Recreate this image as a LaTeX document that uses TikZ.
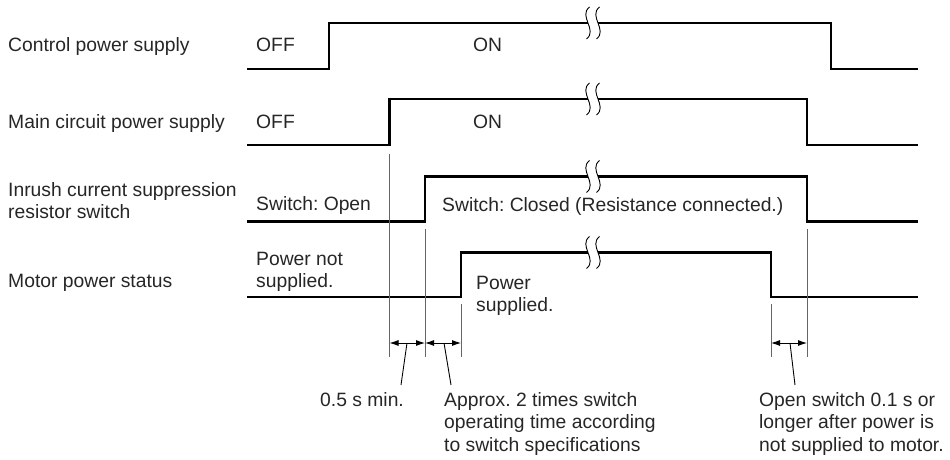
\documentclass[tikz,border=0pt]{standalone}
\usepackage{fontspec}
\setmainfont{Liberation Sans}
\usetikzlibrary{arrows.meta}
\begin{document}
\frenchspacing
\begin{tikzpicture}[x=1pt,y=-1pt,
  wave/.style={line width=2.6pt,black,line join=miter},
  guide/.style={line width=0.9pt,black!60},
  dimarrow/.style={line width=0.9pt,black,{Latex[length=9pt,width=6pt]}-{Latex[length=9pt,width=6pt]}},
  leader/.style={line width=0.9pt,black},
  lbl/.style={anchor=base west,inner sep=0pt,font=\fontsize{19.3}{22.5}\selectfont\frenchspacing,text=black!85},
  brkline/.style={line width=0.9pt,black},
  brkpair/.pic={
    \fill[white] (0,-2.2) rectangle (10,2.2);
    \draw[brkline] (1.5,-16) .. controls (-10,-7) and (10,7) .. (-1.5,16);
    \draw[brkline] (11.5,-16) .. controls (0,-7) and (20,7) .. (8.5,16);
  }]
\useasboundingbox (0,0) rectangle (950,460);

% waveforms
\draw[wave] (247,69) -- (329,69) -- (329,23) -- (831,23) -- (831,69) -- (918,69);
\draw[wave] (247,145) -- (389.5,145) -- (389.5,99) -- (807,99) -- (807,145) -- (918,145);
\draw[wave] (247,221.5) -- (425,221.5) -- (425,176.5) -- (807,176.5) -- (807,221.5) -- (918,221.5);
\draw[wave] (247,297) -- (461,297) -- (461,252.5) -- (771,252.5) -- (771,297) -- (918,297);

% break marks
\pic at (588,23) {brkpair};
\pic at (588,99) {brkpair};
\pic at (588,176.5) {brkpair};
\pic at (588,252.5) {brkpair};

% guide lines
\coordinate (g1t) at (389.5,154); \coordinate (g1b) at (389.5,357);
\coordinate (g2t) at (425,229);   \coordinate (g2b) at (425,357);
\coordinate (g3t) at (461,304);   \coordinate (g3b) at (461,357);
\coordinate (g4t) at (771,304);   \coordinate (g4b) at (771,357);
\coordinate (g5t) at (807,229);   \coordinate (g5b) at (807,357);
\foreach \g in {g1,g2,g3,g4,g5} \draw[guide] (\g t) -- (\g b);

% dimension arrows
\coordinate (d1) at (389.5,343); \coordinate (d2) at (425,343); \coordinate (d3) at (461,343);
\coordinate (d4) at (771,343);   \coordinate (d5) at (807,343);
\draw[dimarrow] (d1) -- (d2);
\draw[dimarrow] (d2) -- (d3);
\draw[dimarrow] (d4) -- (d5);

% leaders
\coordinate (l1a) at (407,343); \coordinate (l1b) at (401,385);
\coordinate (l2a) at (444,343); \coordinate (l2b) at (451,385);
\coordinate (l3a) at (790,343); \coordinate (l3b) at (795,385);
\draw[leader] (l1a) -- (l1b);
\draw[leader] (l2a) -- (l2b);
\draw[leader] (l3a) -- (l3b);

% row labels
\node[lbl] (cps) at (8,52) {Control power supply};
\node[lbl] (off1) at (256,52) {OFF};
\node[lbl] (on1) at (473,52) {ON};
\node[lbl] (mcps) at (8,128) {Main circuit power supply};
\node[lbl] (off2) at (256,128) {OFF};
\node[lbl] (on2) at (473,128) {ON};
\node[lbl] (irs1) at (8,196) {Inrush current suppression};
\node[lbl] (irs2) at (8,218) {resistor switch};
\node[lbl] (swo) at (256,210) {Switch: Open};
\node[lbl] (swc) at (442,211) {Switch: Closed (Resistance connected.)};
\node[lbl] (mps) at (8,287) {Motor power status};
\node[lbl] (pn1) at (256,265) {Power not};
\node[lbl] (pn2) at (256,287) {supplied.};
\node[lbl] (ps1) at (476,289) {Power};
\node[lbl] (ps2) at (476,311) {supplied.};

% bottom notes
\node[lbl] (t05) at (320,406) {0.5 s min.};
\node[lbl] (ta1) at (444,406) {Approx. 2 times switch};
\node[lbl] (ta2) at (444,428.5) {operating time according};
\node[lbl] (ta3) at (444,451) {to switch specifications};
\node[lbl] (tb1) at (759,406) {Open switch 0.1 s or};
\node[lbl] (tb2) at (759,428.5) {longer after power is};
\node[lbl] (tb3) at (759,451) {not supplied to motor.};
\end{tikzpicture}
\end{document}
